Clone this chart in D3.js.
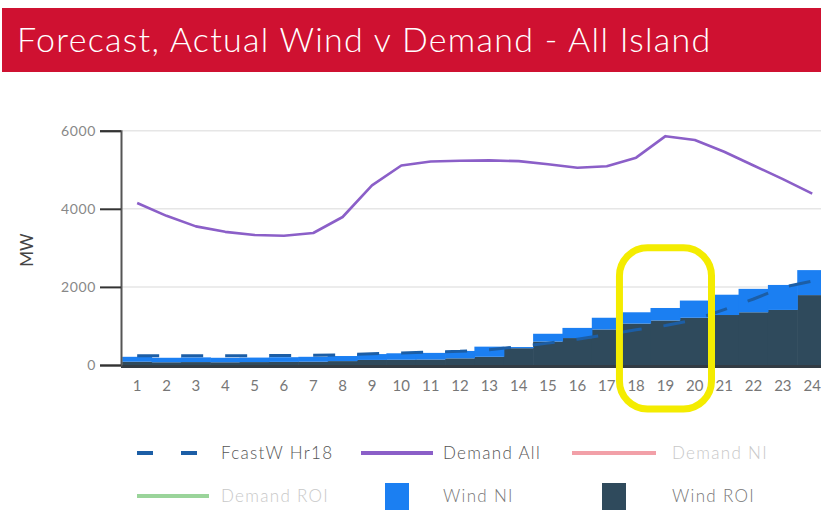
<!DOCTYPE html>
<html>
<head>
<meta charset="utf-8">
<script src="https://cdn.jsdelivr.net/npm/d3@7"></script>
<style>
  html, body { margin: 0; padding: 0; background: #fff; }
  svg { display: block; font-family: Lato, "Open Sans", sans-serif; }
</style>
</head>
<body>
<svg id="chart" width="821" height="510"></svg>
<script>
// ---- data ----
const hours = d3.range(1, 25);
const demandAll = [4150, 3820, 3550, 3410, 3330, 3310, 3380, 3790, 4600, 5110, 5210, 5230, 5240, 5220, 5140, 5050, 5090, 5310, 5860, 5760, 5460, 5110, 4760, 4390];
const windROI   = [85, 70, 75, 70, 75, 80, 85, 100, 130, 135, 140, 170, 210, 430, 600, 690, 910, 1060, 1140, 1210, 1280, 1350, 1410, 1790];
const windNI    = [125, 115, 120, 115, 115, 120, 125, 130, 150, 165, 170, 190, 260, 30, 200, 260, 300, 290, 320, 440, 520, 600, 640, 640];
const fcastHr18 = [240, 235, 235, 235, 240, 245, 250, 260, 290, 310, 330, 350, 390, 470, 560, 660, 780, 900, 1010, 1160, 1420, 1690, 1990, 2150];
const yTicks = [0, 2000, 4000, 6000];
const title = "Forecast, Actual Wind v Demand - All Island";
const yLabel = "MW";
const legendItems = [
  { name: "FcastW Hr18", type: "dash",   color: "#1c5ea6", text: "#555" },
  { name: "Demand All",  type: "line",   color: "#8b5fc8", text: "#555" },
  { name: "Demand NI",   type: "line",   color: "#f2a0a8", text: "#c8c8c8" },
  { name: "Demand ROI",  type: "line",   color: "#9ad49a", text: "#c8c8c8" },
  { name: "Wind NI",     type: "square", color: "#1b7ff2", text: "#777" },
  { name: "Wind ROI",    type: "square", color: "#2f4a5c", text: "#777" }
];
const colors = { ni: "#1b7ff2", roi: "#2f4a5c", demand: "#8b5fc8", fcast: "#1c5ea6" };

const svg = d3.select("#chart");

// ---- header ----
svg.append("rect").attr("x", 2).attr("y", 8).attr("width", 819).attr("height", 64).attr("fill", "#cf1131");
svg.append("text").attr("x", 17).attr("y", 52).attr("fill", "#fff")
  .attr("font-size", 34).attr("font-weight", 300).attr("letter-spacing", 1.3).text(title);

// ---- scales ----
const x = d3.scaleBand().domain(hours).range([122.5, 122.5 + 24 * 29.35]).padding(0);
const y = d3.scaleLinear().domain([0, 6000]).range([365, 130.7]);

// gridlines
svg.append("g").selectAll("line").data(yTicks.filter(d => d > 0)).join("line")
  .attr("x1", 121).attr("x2", 821).attr("y1", d => y(d)).attr("y2", d => y(d))
  .attr("stroke", "#e6e6e6").attr("stroke-width", 1.5);

// stacked bars
const rows = hours.map((h, i) => ({ hour: h, roi: windROI[i], ni: windNI[i] }));
const stack = d3.stack().keys(["roi", "ni"])(rows);
svg.append("g").selectAll("g").data(stack).join("g")
  .attr("fill", d => colors[d.key])
  .selectAll("rect").data(d => d).join("rect")
  .attr("x", d => x(d.data.hour) - 0.3)
  .attr("width", x.bandwidth() + 0.6)
  .attr("y", d => y(d[1]))
  .attr("height", d => y(d[0]) - y(d[1]));

// x axis baseline
svg.append("line").attr("x1", 121).attr("x2", 821).attr("y1", 366.5).attr("y2", 366.5)
  .attr("stroke", "#333c44").attr("stroke-width", 3);

// forecast line (dashed)
const line = (vals) => d3.line().x((d, i) => x(hours[i]) + x.bandwidth() / 2).y(d => y(d))(vals);
svg.append("path").attr("d", line(fcastHr18)).attr("fill", "none")
  .attr("stroke", colors.fcast).attr("stroke-width", 3).attr("stroke-dasharray", "22,22");

// demand line
svg.append("path").attr("d", line(demandAll)).attr("fill", "none")
  .attr("stroke", colors.demand).attr("stroke-width", 2.6).attr("stroke-linejoin", "round");

// y axis
const yAxis = d3.axisLeft(y).tickValues(yTicks).tickFormat(d3.format("d")).tickSize(21).tickPadding(4);
const gy = svg.append("g").attr("transform", "translate(121,0)").call(yAxis);
gy.select(".domain").attr("stroke", "#555").attr("stroke-width", 2);
gy.selectAll(".tick line").attr("stroke", "#333").attr("stroke-width", 2);
gy.selectAll(".tick text").attr("fill", "#888").attr("font-size", 14).attr("letter-spacing", 0.6).attr("font-family", "Lato");

// x axis labels
const xAxis = d3.axisBottom(x).tickSize(0).tickPadding(12);
const gx = svg.append("g").attr("transform", "translate(0,368)").call(xAxis);
gx.select(".domain").remove();
gx.selectAll(".tick text").attr("fill", "#777").attr("font-size", 15).attr("font-family", "Lato");

// y label
svg.append("text").attr("transform", "translate(33,250) rotate(-90)")
  .attr("text-anchor", "middle").attr("fill", "#444").attr("font-size", 17).text(yLabel);

// highlight annotation (yellow rounded box around hours 18-20)
svg.append("rect")
  .attr("x", x(18) - 2).attr("y", y(3000))
  .attr("width", x(20) + x.bandwidth() - x(18) + 4).attr("height", 409 - y(3000))
  .attr("rx", 28).attr("ry", 28)
  .attr("fill", "none").attr("stroke", "#f4ec00").attr("stroke-width", 7);

// ---- legend ----
const colSym = [137, 361, 572], colSymW = [72, 72, 84], colText = [221, 443, 672], rowY = [453, 496];
const lg = svg.append("g").selectAll("g").data(legendItems).join("g")
  .attr("transform", (d, i) => `translate(0,${rowY[Math.floor(i / 3)]})`);
lg.each(function (d, i) {
  const g = d3.select(this), c = i % 3;
  if (d.type === "square") {
    const cx = colSym[c] + colSymW[c] / 2;
    g.append("rect").attr("x", cx - 12).attr("y", -13).attr("width", 24).attr("height", 28).attr("fill", d.color);
  } else {
    g.append("line").attr("x1", colSym[c]).attr("x2", d.type === "dash" ? colSym[c] + 60 : colSym[c] + colSymW[c])
      .attr("y1", 0).attr("y2", 0).attr("stroke", d.color).attr("stroke-width", 4)
      .attr("stroke-dasharray", d.type === "dash" ? "16,28" : null);
  }
  g.append("text").attr("x", colText[c]).attr("y", 0).attr("dy", "0.35em")
    .attr("fill", d.text).attr("font-size", 17).attr("font-weight", 300).attr("letter-spacing", 1.3).text(d.name);
});
</script>
</body>
</html>
